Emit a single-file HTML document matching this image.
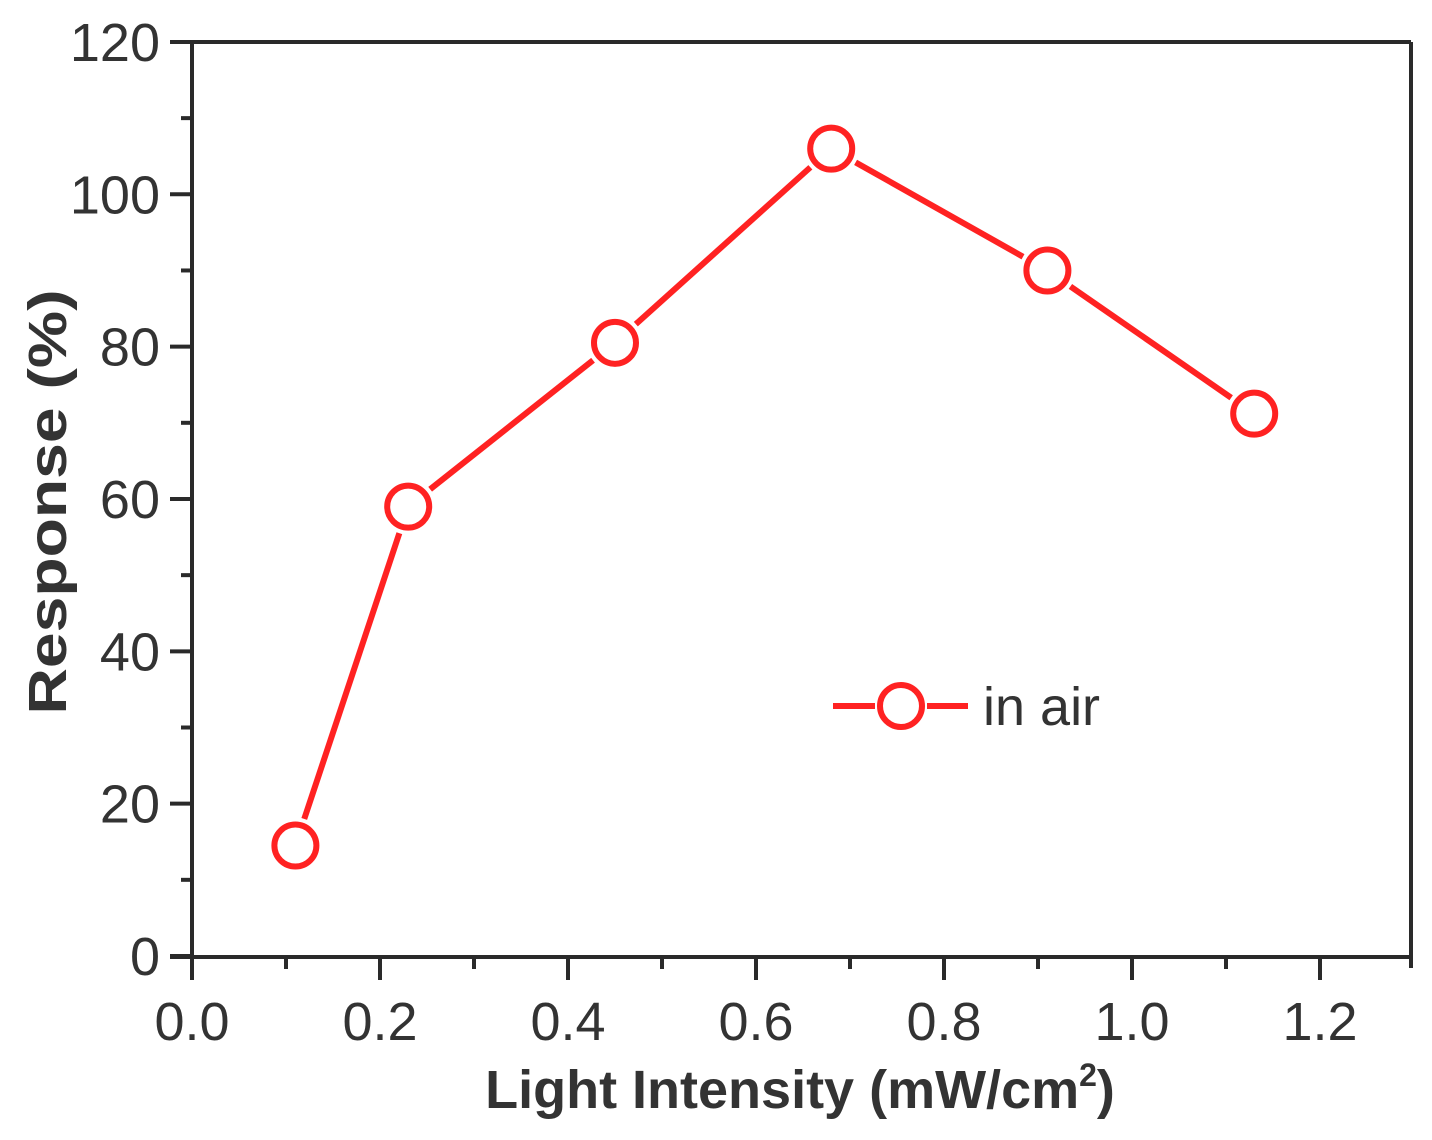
<!DOCTYPE html>
<html><head><meta charset="utf-8"><style>
body{margin:0;background:#fff;}
svg{display:block;font-family:"Liberation Sans",sans-serif;}
</style></head><body>
<svg id="chart" width="1432" height="1140" viewBox="0 0 1432 1140"></svg>
<script>
const xVals=[0.11,0.23,0.45,0.68,0.91,1.13];
const yVals=[14.5,59,80.5,106,90,71.2];
const xTicks=[0.0,0.2,0.4,0.6,0.8,1.0,1.2];
const yTicks=[0,20,40,60,80,100,120];
const xTickLabels=["0.0","0.2","0.4","0.6","0.8","1.0","1.2"];
const yTickLabels=["0","20","40","60","80","100","120"];

const NS="http://www.w3.org/2000/svg";
const svg=document.getElementById('chart');
const X=v=>192+v*940;
const Y=v=>956-v*7.617;
function mk(t,a,p){const e=document.createElementNS(NS,t);for(const k in a)e.setAttribute(k,a[k]);(p||svg).appendChild(e);return e;}
const ax='#2a2a2a';
let e=mk('line',{x1:170,y1:42,x2:1411,y2:42,stroke:ax,'stroke-width':4});


e=mk('line',{x1:1411,y1:42,x2:1411,y2:968,stroke:ax,'stroke-width':4});


e=mk('line',{x1:192,y1:42,x2:192,y2:980,stroke:ax,'stroke-width':4});


e=mk('line',{x1:170,y1:957,x2:1411,y2:957,stroke:ax,'stroke-width':4});


yTicks.forEach((v,i)=>{
  let t=mk('line',{x1:170,y1:Y(v),x2:192,y2:Y(v),stroke:ax,'stroke-width':4});
  
  
  if(i<yTicks.length-1){let m=mk('line',{x1:181,y1:Y(v+10),x2:192,y2:Y(v+10),stroke:ax,'stroke-width':4});
  
  }
  let l=mk('text',{x:160,y:Y(v)+19,'text-anchor':'end','font-size':54,fill:'#333'});
  l.textContent=yTickLabels[i];
  
  
});
xTicks.forEach((v,i)=>{
  let t=mk('line',{x1:X(v),y1:957,x2:X(v),y2:980,stroke:ax,'stroke-width':4});
  
  
  if(i<xTicks.length-1){let m=mk('line',{x1:X(v+0.1),y1:957,x2:X(v+0.1),y2:969,stroke:ax,'stroke-width':4});
  
  }
  let l=mk('text',{x:X(v),y:1040,'text-anchor':'middle','font-size':54,fill:'#333'});
  l.textContent=xTickLabels[i];
  
  
});
let yt=mk('text',{x:66,y:502,'text-anchor':'middle','font-size':54,'font-weight':'bold',fill:'#333',transform:'rotate(-90 66 502)',textLength:425,lengthAdjust:'spacingAndGlyphs'});
yt.textContent='Response (%)';


let xt=mk('text',{x:800,y:1108,'text-anchor':'middle','font-size':54,'font-weight':'bold',fill:'#333'});
xt.innerHTML='Light Intensity (mW/cm<tspan dy="-22" font-size="32">2</tspan><tspan dy="22">)</tspan>';


const red='#ff2222',R=21;
for(let i=0;i<xVals.length-1;i++){
  const x1=X(xVals[i]),y1=Y(yVals[i]),x2=X(xVals[i+1]),y2=Y(yVals[i+1]);
  const d=Math.hypot(x2-x1,y2-y1),ux=(x2-x1)/d,uy=(y2-y1)/d,g=R+7;
  let s=mk('line',{x1:x1+ux*g,y1:y1+uy*g,x2:x2-ux*g,y2:y2-uy*g,stroke:red,'stroke-width':6});
  
  
}
xVals.forEach((v,i)=>{
  let c=mk('circle',{cx:X(v),cy:Y(yVals[i]),r:R,fill:'#fff',stroke:red,'stroke-width':6});
  
  
});
let lg=mk('g',{});


mk('line',{x1:833,y1:706,x2:875,y2:706,stroke:red,'stroke-width':6},lg);
mk('line',{x1:927,y1:706,x2:968,y2:706,stroke:red,'stroke-width':6},lg);
mk('circle',{cx:901,cy:706,r:R,fill:'#fff',stroke:red,'stroke-width':6},lg);
let lt=mk('text',{x:983,y:725,'font-size':54,fill:'#333'},lg);
lt.textContent='in air';
</script>
</body></html>
